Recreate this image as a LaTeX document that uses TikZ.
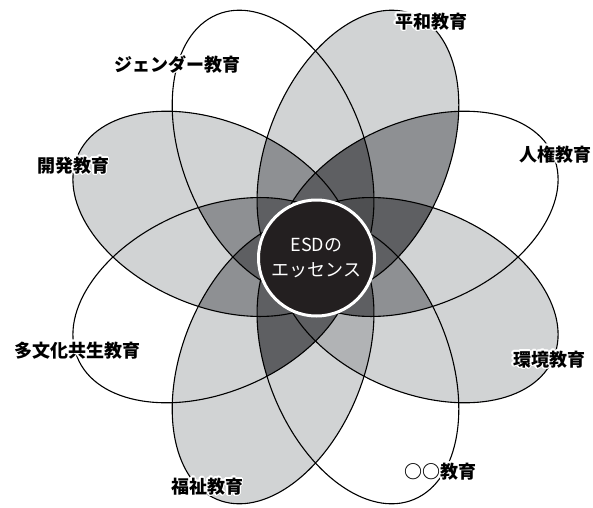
\documentclass[tikz,border=0pt]{standalone}
\usepackage{fontspec}
\newfontfamily\jp{Noto Sans CJK JP}
\usepackage[copies]{contour}
\contourlength{1.3pt}
\definecolor{lightg}{HTML}{D1D3D4}
\definecolor{lmid}{HTML}{B1B3B5}
\definecolor{midg}{HTML}{8E9093}
\definecolor{darkg}{HTML}{5E5F62}
\definecolor{dkr}{HTML}{4E4F51}
\definecolor{esdblack}{HTML}{231F20}
\newcommand\Clip[1]{\clip[petal=#1] (112.8,0) ellipse [x radius=149.5,y radius=92.2];}
\newcommand\Fill[2]{\fill[#2,petal=#1] (112.8,0) ellipse [x radius=149.5,y radius=92.2];}
\newcommand\Outline[1]{\draw[petal=#1] (112.8,0) ellipse [x radius=149.5,y radius=92.2];}
\newcommand\Pair[3]{\begin{scope}\Clip{#1}\Fill{#2}{#3}\end{scope}}
\newcommand\Triple[4]{\begin{scope}\Clip{#1}\Clip{#2}\Fill{#3}{#4}\end{scope}}
\newcommand\Quad[5]{\begin{scope}\Clip{#1}\Clip{#2}\Clip{#3}\Fill{#4}{#5}\end{scope}}
\begin{document}
\begin{tikzpicture}[x=1pt,y=1pt,
  petal/.style={shift={(315.5,250)},xscale=0.983,rotate=#1},
  line width=1.1pt,
  lbl/.style={font=\jp\bfseries\fontsize{18}{18}\selectfont, inner sep=0pt}]
\useasboundingbox (0,0) rectangle (593,507);
\fill[white] (0,0) rectangle (593,507);
% single gray petals
\Fill{67.5}{lightg}
\Fill{157.5}{lightg}
\Fill{247.5}{lightg}
\Fill{337.5}{lightg}
% pairs
\Pair{22.5}{67.5}{midg}
% triples
\Triple{337.5}{22.5}{67.5}{darkg}
\Triple{22.5}{67.5}{112.5}{darkg}
\Triple{67.5}{112.5}{157.5}{midg}
\Triple{112.5}{157.5}{202.5}{midg}
\Triple{157.5}{202.5}{247.5}{midg}
\Triple{202.5}{247.5}{292.5}{darkg}
\Triple{247.5}{292.5}{337.5}{lmid}
\Triple{292.5}{337.5}{22.5}{midg}
% quads
\Quad{292.5}{337.5}{22.5}{67.5}{darkg}
\Quad{337.5}{22.5}{67.5}{112.5}{dkr}
\Quad{22.5}{67.5}{112.5}{157.5}{darkg}
\Quad{67.5}{112.5}{157.5}{202.5}{darkg}
\Quad{112.5}{157.5}{202.5}{247.5}{darkg}
\Quad{157.5}{202.5}{247.5}{292.5}{darkg}
\Quad{202.5}{247.5}{292.5}{337.5}{darkg}
\Quad{247.5}{292.5}{337.5}{22.5}{darkg}
% outlines
\foreach \a in {22.5,67.5,112.5,157.5,202.5,247.5,292.5,337.5} {\Outline{\a}}
% centre
\node[circle, fill=esdblack, draw=white, line width=3pt, minimum size=116pt, inner sep=0pt,
  text=white, align=center, font=\jp\fontsize{18}{24.5}\selectfont] (esd) at (316.5,249) {ESDの\\エッセンス};
% labels
\node[lbl] (heiwa) at (431,485) {\contour{white}{平和教育}};
\node[lbl] (gender) at (177,442) {\contour{white}{ジェンダー教育}};
\node[lbl] (kaihatsu) at (73,341) {\contour{white}{開発教育}};
\node[lbl] (tabunka) at (77,156) {\contour{white}{多文化共生教育}};
\node[lbl] (jinken) at (555,352) {\contour{white}{人権教育}};
\node[lbl] (kankyo) at (549,147) {\contour{white}{環境教育}};
\node[lbl] (maru) at (440,35) {\contour{white}{○○教育}};
\node[lbl] (fukushi) at (207,20) {\contour{white}{福祉教育}};
\end{tikzpicture}
\end{document}
